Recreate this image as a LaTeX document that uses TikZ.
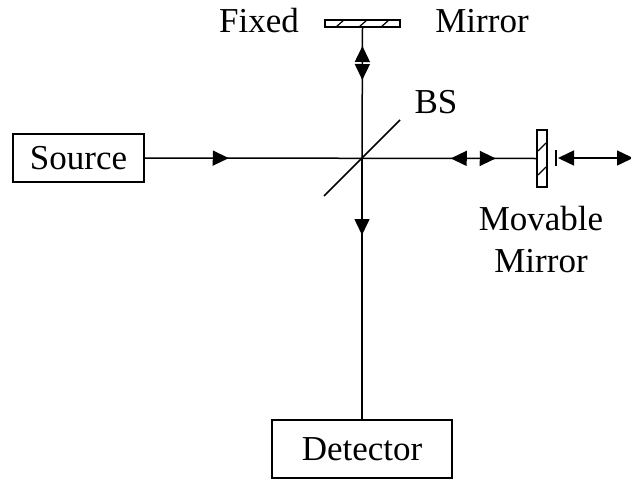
\documentclass[tikz,border=0pt]{standalone}
\usepackage{fontspec}
\setmainfont{Liberation Serif}
\usetikzlibrary{calc,arrows.meta,decorations.markings}
\tikzset{
  >={Triangle[length=16pt,width=15pt]},
  box/.style={draw, line width=1.5pt, inner sep=0pt},
  mirror/.style={draw, line width=1.2pt, inner sep=0pt},
  beam/.style={line width=1.5pt},
  fwd/.style={postaction={decorate, decoration={markings, mark=at position #1 with {\arrow{>}}}}},
  bwd/.style={postaction={decorate, decoration={markings, mark=at position #1 with {\arrowreversed{>}}}}}
}

\begin{document}
\begin{tikzpicture}[x=1pt, y=-1pt, font=\fontsize{35}{42}\selectfont]
    \useasboundingbox (0,0) rectangle (631,479);
    % boxes and mirrors
    \node [box, minimum width=131pt, minimum height=48pt] (src) at (78.5,158) {Source};
    \node [box, minimum width=180pt, minimum height=58pt] (det) at (362,449) {Detector};
    \node [mirror, minimum width=75pt, minimum height=7pt] (fm) at (362.5,23.5) {};
    \node [mirror, minimum width=10pt, minimum height=57pt] (mm) at (542,158.5) {};
    \coordinate (bs) at (362,158);
    \coordinate (mv1) at (558,158);
    \coordinate (mv2) at (633,158);
    % labels
    \node (fixed) at (259,21) {Fixed};
    \node (fixedm) at (482,21) {Mirror};
    \node (bslbl) at (436,102) {BS};
    \node [align=center] (movl) at (541,240) {Movable\\Mirror};
    % hatching
    \foreach \x in {340,363,385}
      \draw [line width=1.2pt] (\x-4,27) -- (\x+4,20);
    \foreach \y in {147,171}
      \draw [line width=1.2pt] (538,\y+4) -- (546,\y-4);
    % beams
    \draw [beam, fwd=84pt, bwd=306pt, fwd=351pt] (src.east) -- (mm.west);
    \draw [beam, fwd=112pt, bwd=78pt] (bs) -- (fm.south);
    \draw [beam, fwd=77pt] (bs) -- (det.north);
    \draw [beam, <->] (mv1) -- (mv2);
    \draw [beam] ($(mv1)+(-2,-8)$) -- ($(mv1)+(-2,8)$);
    % beam splitter
    \draw [beam] ($(bs)+(-38,38)$) -- ($(bs)+(38,-38)$);
\end{tikzpicture}
\end{document}
